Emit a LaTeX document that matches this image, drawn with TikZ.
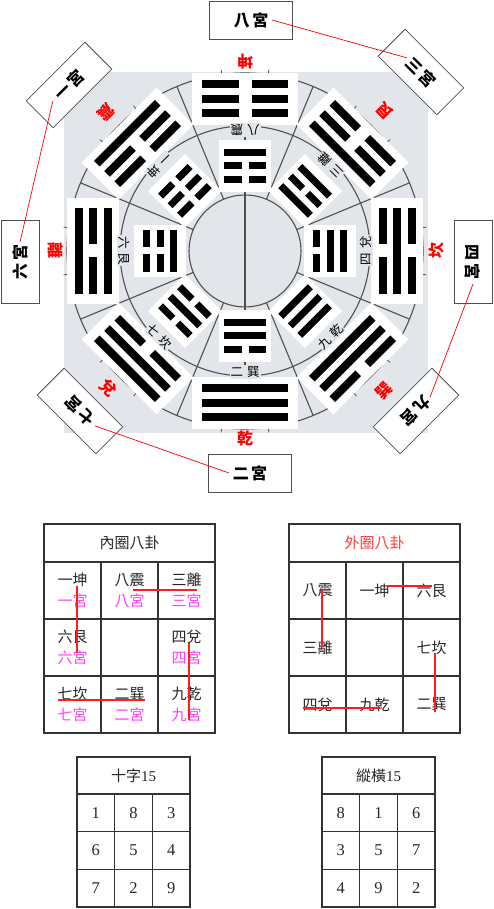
\documentclass[tikz,border=0pt]{standalone}
\usepackage{fontspec}
\setmainfont{Liberation Serif}
\newfontfamily\cjk{Noto Sans CJK TC}
\usetikzlibrary{calc}
\definecolor{mapgray}{RGB}{226,230,235}
\definecolor{rimgray}{RGB}{80,80,80}
\definecolor{gongpink}{RGB}{255,60,255}
\definecolor{headred}{RGB}{255,60,60}
\definecolor{linered}{RGB}{255,30,30}
\tikzset{
  rim/.style={rimgray,line width=1.1pt},
  gongbox/.style={draw=rimgray,fill=white,line width=.8pt,minimum width=83pt,minimum height=38pt,inner sep=0pt,
    font=\cjk\bfseries\fontsize{16}{16}\selectfont},
  gualab/.style={font=\cjk\bfseries\fontsize{16}{16}\selectfont,text=red,inner sep=0pt},
  ringlab/.style={font=\cjk\fontsize{12.5}{12.5}\selectfont,fill=mapgray,inner sep=1pt},
  gongline/.style={red,line width=.7pt},
  tabline/.style={draw=black!80,line width=1.1pt},
  redmark/.style={linered,line width=1.3pt},
  celltxt/.style={font=\cjk\fontsize{15}{21}\selectfont,align=center,inner sep=0pt,text=black!85},
  numtxt/.style={font=\fontsize{16.5}{16.5}\selectfont,inner sep=0pt,text=black!85}
}
% radius, half length, spacing, half gap, half thickness, bits (outer line first)
\newcommand{\guabars}[6]{%
  \foreach \b [count=\k] in {#6}{%
    \pgfmathsetmacro{\yy}{#1+(2-\k)*#3}
    \ifnum\b=1
      \fill (-#2,\yy-#5) rectangle (#2,\yy+#5);
    \else
      \fill (-#2,\yy-#5) rectangle (-#4,\yy+#5);
      \fill (#4,\yy-#5) rectangle (#2,\yy+#5);
    \fi}}
\begin{document}
\begin{tikzpicture}[x=1pt,y=1pt]
\useasboundingbox (0,0) rectangle (493,909);
\coordinate (O) at (245,658);
\fill[mapgray] (64,476) rectangle (428,837);
\draw[rim] (O) circle (56pt) (O) circle (125pt) (O) circle (178pt);
\draw[rim] ([yshift=178pt]O) -- ([yshift=-178pt]O);
\foreach \a in {22.5,67.5,...,337.5}{\draw[rim] ([shift={(\a:56)}]O) -- ([shift={(\a:178)}]O);}
\foreach \a in {0,45,...,315}{\foreach \d in {-7.5,7.5}{
\draw[rim,line width=.8pt] ([shift={(\a+\d:173)}]O) -- ([shift={(\a+\d:183)}]O);}}
\foreach \a/\u/\v/\w in {90/0/0/0,135/1/0/0,180/1/0/1,225/1/1/0,270/1/1/1,315/0/1/1,0/0/1/0,45/0/0/1}{
\begin{scope}[shift={(O)},rotate=\a-90]
\fill[white] (-53,126) rectangle (53,178);
\guabars{152}{43}{14.5}{6.5}{4}{\u,\v,\w}
\end{scope}}
\foreach \a/\u/\v/\w in {90/1/0/0,135/0/0/0,180/0/0/1,225/0/1/0,270/0/1/1,315/1/1/1,0/1/1/0,45/1/0/1}{
\begin{scope}[shift={(O)},rotate=\a-90]
\fill[white] (-26,59) rectangle (26,111);
\guabars{85}{21}{13.5}{3.5}{3.5}{\u,\v,\w}
\end{scope}}
\foreach \a/\r/\g [count=\i] in {90/189/坤,135/196/震,180/189/離,225/193/兌,270/187/乾,315/197/巽,0/191/坎,45/198/艮}
  \node[gualab,rotate=\a+90] (gua\i) at ([shift={(\a:\r)}]O) {\g};
\foreach \a/\n/\g [count=\i] in {90/八/震,135/一/坤,180/六/艮,225/七/坎,270/二/巽,315/九/乾,0/四/兌,45/三/離}
  \node[ringlab,rotate=\a+90] (ring\i) at ([shift={(\a:121)}]O) {\n\hspace{4pt}\g};
\foreach \k/\n/\x/\y/\r in {8/八/251/889/0,3/三/421/837/-45,4/四/473/647/-90,9/九/416/498/-135,2/二/250/436/0,7/七/80/498/135,6/六/20/647/90,1/一/69/824/45}
  \node[gongbox,rotate=\r] (gong\k) at (\x,\y) {\n\hspace{2.5pt}宮};
\draw[gongline] ($(gong8.center)!21pt!(gong8.east)$) -- ($(gong3.center)!20pt!(gong3.west)$);
\draw[gongline] ($(gong1.center)!23pt!(gong1.west)$) -- ($(gong6.center)!20pt!(gong6.east)$);
\draw[gongline] ($(gong4.center)!22pt!(gong4.east)$) -- ($(gong9.center)!20pt!(gong9.west)$);
\draw[gongline] ($(gong7.center)!21pt!(gong7.west)$) -- ($(gong2.center)!21pt!(gong2.west)$);
\foreach \off/\kind in {44/0,289/1}{
\begin{scope}[shift={(\off,176)}]
\draw[tabline] (0,0) rectangle (171,209);
\draw[tabline,step=57] (0,0) grid (171,171);
\ifnum\kind=0
\node[celltxt] (inhead) at (85.5,190) {內圈八卦};
\foreach \n/\g/\i/\j in {一/坤/1/1,八/震/2/1,三/離/3/1,六/艮/1/2,四/兌/3/2,七/坎/1/3,二/巽/2/3,九/乾/3/3}
  \node[celltxt] (in\i\j) at (\i*57-28.5,199.5-\j*57) {\n\g\\\textcolor{gongpink}{\n{}宮}};
\draw[redmark] ([shift={(4.5,4.5)}]in11.center) -- ([shift={(4.5,-5.5)}]in12.center);
\draw[redmark] ([shift={(3.5,.5)}]in21.center) -- ([shift={(10.5,.5)}]in31.center);
\draw[redmark] ([shift={(2.5,4.5)}]in32.center) -- ([shift={(2.5,-15.5)}]in33.center);
\draw[redmark] ([shift={(-14.5,4.5)}]in13.center) -- ([shift={(15.5,4.5)}]in23.center);
\else
\node[celltxt,text=headred] (outhead) at (85.5,190) {外圈八卦};
\foreach \n/\g/\i/\j in {八/震/1/1,一/坤/2/1,六/艮/3/1,三/離/1/2,七/坎/3/2,四/兌/1/3,九/乾/2/3,二/巽/3/3}
  \node[celltxt] (out\i\j) at (\i*57-28.5,199.5-\j*57) {\n\g};
\draw[redmark] ([shift={(4.5,1.5)}]out11.center) -- ([shift={(4.5,.5)}]out12.center);
\draw[redmark] ([shift={(13.5,4.5)}]out21.center) -- ([shift={(.5,4.5)}]out31.center);
\draw[redmark] ([shift={(3.5,-5.5)}]out32.center) -- ([shift={(3.5,-7.5)}]out33.center);
\draw[redmark] ([shift={(-14.5,-3.5)}]out13.center) -- ([shift={(5.5,-3.5)}]out23.center);
\fi
\end{scope}}
\foreach \off/\kind in {77/0,322/1}{
\begin{scope}[shift={(\off,2)}]
\draw[tabline] (0,0) rectangle (113,150);
\draw[tabline] (0,37.67) -- (113,37.67) (0,75.33) -- (113,75.33) (0,113) -- (113,113)
  (37.67,0) -- (37.67,113) (75.33,0) -- (75.33,113);
\ifnum\kind=0
\node[celltxt] (crosshead) at (56.5,131.5) {十字\rmfamily 15};
\foreach \v [count=\c from 0] in {1,8,3,6,5,4,7,2,9}{
  \pgfmathtruncatemacro\i{mod(\c,3)}\pgfmathtruncatemacro\j{div(\c,3)}
  \node[numtxt] (cross\c) at (18.83+\i*37.67,94.17-\j*37.67) {\v};}
\else
\node[celltxt] (gridhead) at (56.5,131.5) {縱橫\rmfamily 15};
\foreach \v [count=\c from 0] in {8,1,6,3,5,7,4,9,2}{
  \pgfmathtruncatemacro\i{mod(\c,3)}\pgfmathtruncatemacro\j{div(\c,3)}
  \node[numtxt] (grid\c) at (18.83+\i*37.67,94.17-\j*37.67) {\v};}
\fi
\end{scope}}
\end{tikzpicture}
\end{document}
